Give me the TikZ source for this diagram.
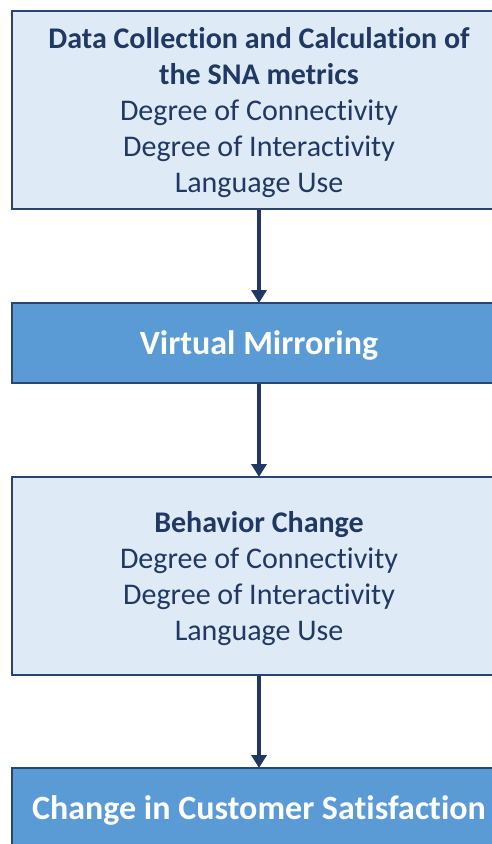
\documentclass[tikz,border=0pt]{standalone}
\usepackage{fontspec}
\setmainfont{Carlito}[Ligatures={NoCommon}]
\usetikzlibrary{arrows.meta}
\definecolor{navy}{HTML}{1F3864}
\definecolor{lightfill}{HTML}{DEEAF6}
\definecolor{darkfill}{HTML}{5B9BD5}
\definecolor{edge}{HTML}{2B4573}
\tikzset{
  boxbase/.style={draw=edge, line width=2pt, minimum width=494pt, inner sep=0pt},
  lightbox/.style={boxbase, fill=lightfill, minimum height=198pt},
  darkbox/.style={boxbase, fill=darkfill, minimum height=80pt},
  lighttext/.style={align=center, text=navy, font=\fontsize{30}{36}\selectfont, inner sep=0pt, yshift=-3pt},
  darktext/.style={align=center, text=white, font=\fontsize{34}{36}\selectfont\bfseries, inner sep=0pt, yshift=-2.5pt},
  flow/.style={draw=navy, line width=3.5pt, -{Triangle[length=13pt, width=15pt]}, shorten >=-1pt}
}
\begin{document}
\begin{tikzpicture}[x=1pt, y=-1pt]
\useasboundingbox (0,0) rectangle (492,844);
\clip (0,0) rectangle (492,844);
\node[lightbox] (b1) at (259,110) {};
\node[lighttext] (t1) at (b1.center) {\textbf{Data Collection and Calculation of}\\\textbf{the SNA metrics}\\Degree of Connectivity\\Degree of Interactivity\\Language Use};
\node[darkbox] (b2) at (259,343) {};
\node[darktext] (t2) at (b2.center) {Virtual Mirroring};
\node[lightbox] (b3) at (259,576) {};
\node[lighttext] (t3) at (b3.center) {\textbf{Behavior Change}\\Degree of Connectivity\\Degree of Interactivity\\Language Use};
\node[darkbox] (b4) at (259,808) {};
\node[darktext] (t4) at (b4.center) {Change in Customer Satisfaction};
\draw[flow] (b1.south) -- (b2.north);
\draw[flow] (b2.south) -- (b3.north);
\draw[flow] (b3.south) -- (b4.north);
\end{tikzpicture}
\end{document}
